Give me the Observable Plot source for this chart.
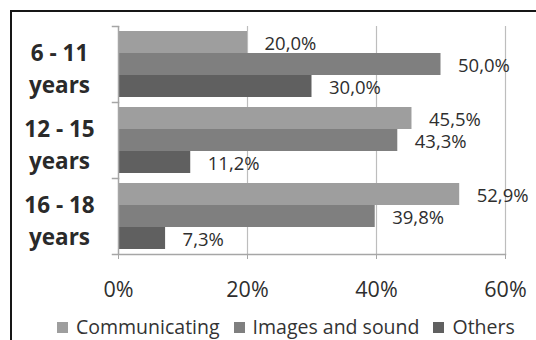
<!DOCTYPE html>
<html>
<head>
<meta charset="utf-8">
<script src="https://cdn.jsdelivr.net/npm/d3@7"></script>
<script src="https://cdn.jsdelivr.net/npm/@observablehq/plot@0.6"></script>
<style>
  html, body { margin: 0; padding: 0; background: #fff; }
  body { width: 536px; height: 340px; overflow: hidden; position: relative; font-family: "Open Sans", sans-serif; }
  #border { position: absolute; left: 10px; top: 10px; width: 600px; height: 400px; border: 2px solid #161616; box-sizing: border-box; }
  #chart { position: absolute; left: 0; top: 0; }
  #legend { position: absolute; left: 57px; top: 315px; display: flex; align-items: center; font-size: 19.5px; line-height: 24px; color: #333; white-space: nowrap; }
  #legend .item { display: flex; align-items: center; margin-right: 14px; }
  #legend .sw { width: 11px; height: 11px; margin-right: 8px; display: inline-block; }
</style>
</head>
<body>
<div id="border"></div>
<div id="chart"></div>
<div id="legend"></div>
<script>
const groups = ["6 - 11 years", "12 - 15 years", "16 - 18 years"];
const series = ["Communicating", "Images and sound", "Others"];
const communicating = [20.0, 45.5, 52.9];
const imagesSound = [50.0, 43.3, 39.8];
const others = [30.0, 11.2, 7.3];
const xTicks = [0, 20, 40, 60];
const colors = ["#9e9e9e", "#7f7f7f", "#606060"];

const seriesValues = [communicating, imagesSound, others];
const data = [];
groups.forEach((g, gi) => {
  series.forEach((s, si) => {
    data.push({group: g, series: s, value: seriesValues[si][gi]});
  });
});

const fmt = v => v.toFixed(1).replace(".", ",") + "%";

const chart = Plot.plot({
  width: 536,
  height: 310,
  marginLeft: 118,
  marginRight: 31,
  marginTop: 25,
  marginBottom: 55,
  style: {fontFamily: "'Open Sans', sans-serif", background: "transparent", color: "#333"},
  x: {domain: [0, 60], axis: null},
  y: {domain: series, axis: null, paddingInner: 0, paddingOuter: 0.18},
  fy: {domain: groups, axis: null, padding: 0},
  color: {domain: series, range: colors},
  marks: [
    Plot.ruleX(xTicks.slice(1), {stroke: "#bdbdbd", strokeWidth: 1.2}),
    Plot.barX(data, {fy: "group", y: "series", x: "value", fill: "series"}),
    Plot.ruleX([0], {stroke: "#a6a6a6", strokeWidth: 1.5}),
    Plot.frame({anchor: "top", insetLeft: -6, insetRight: 387, stroke: "#a6a6a6", strokeWidth: 1.5}),
    Plot.frame({anchor: "bottom", insetLeft: -6, fy: () => groups[groups.length - 1], stroke: "#a6a6a6", strokeWidth: 1.5}),
    Plot.text(data, {fy: "group", y: "series", x: "value", text: d => fmt(d.value), textAnchor: "start", dx: 17, dy: 1.5, fontSize: 18.5, fill: "#2e2e2e"}),
    Plot.axisX({ticks: xTicks, tickFormat: d => d + "%", tickSize: 5, tickPadding: 22, fontSize: 21.5, stroke: "#a6a6a6", fill: "#2e2e2e", label: null}),
    Plot.axisFy({anchor: "left", tickSize: 0, tickPadding: 59, textAnchor: "middle", fontSize: 22.5, fontWeight: "bold", lineHeight: 1.42, dy: 2.7, fill: "#2a2a2a", label: null, tickFormat: d => d.replace(" years", "\nyears")})
  ]
});
document.getElementById("chart").appendChild(chart);

const legend = document.getElementById("legend");
series.forEach((s, i) => {
  const item = document.createElement("span");
  item.className = "item";
  const sw = document.createElement("span");
  sw.className = "sw";
  sw.style.background = colors[i];
  item.appendChild(sw);
  item.appendChild(document.createTextNode(s));
  legend.appendChild(item);
});
</script>
</body>
</html>
